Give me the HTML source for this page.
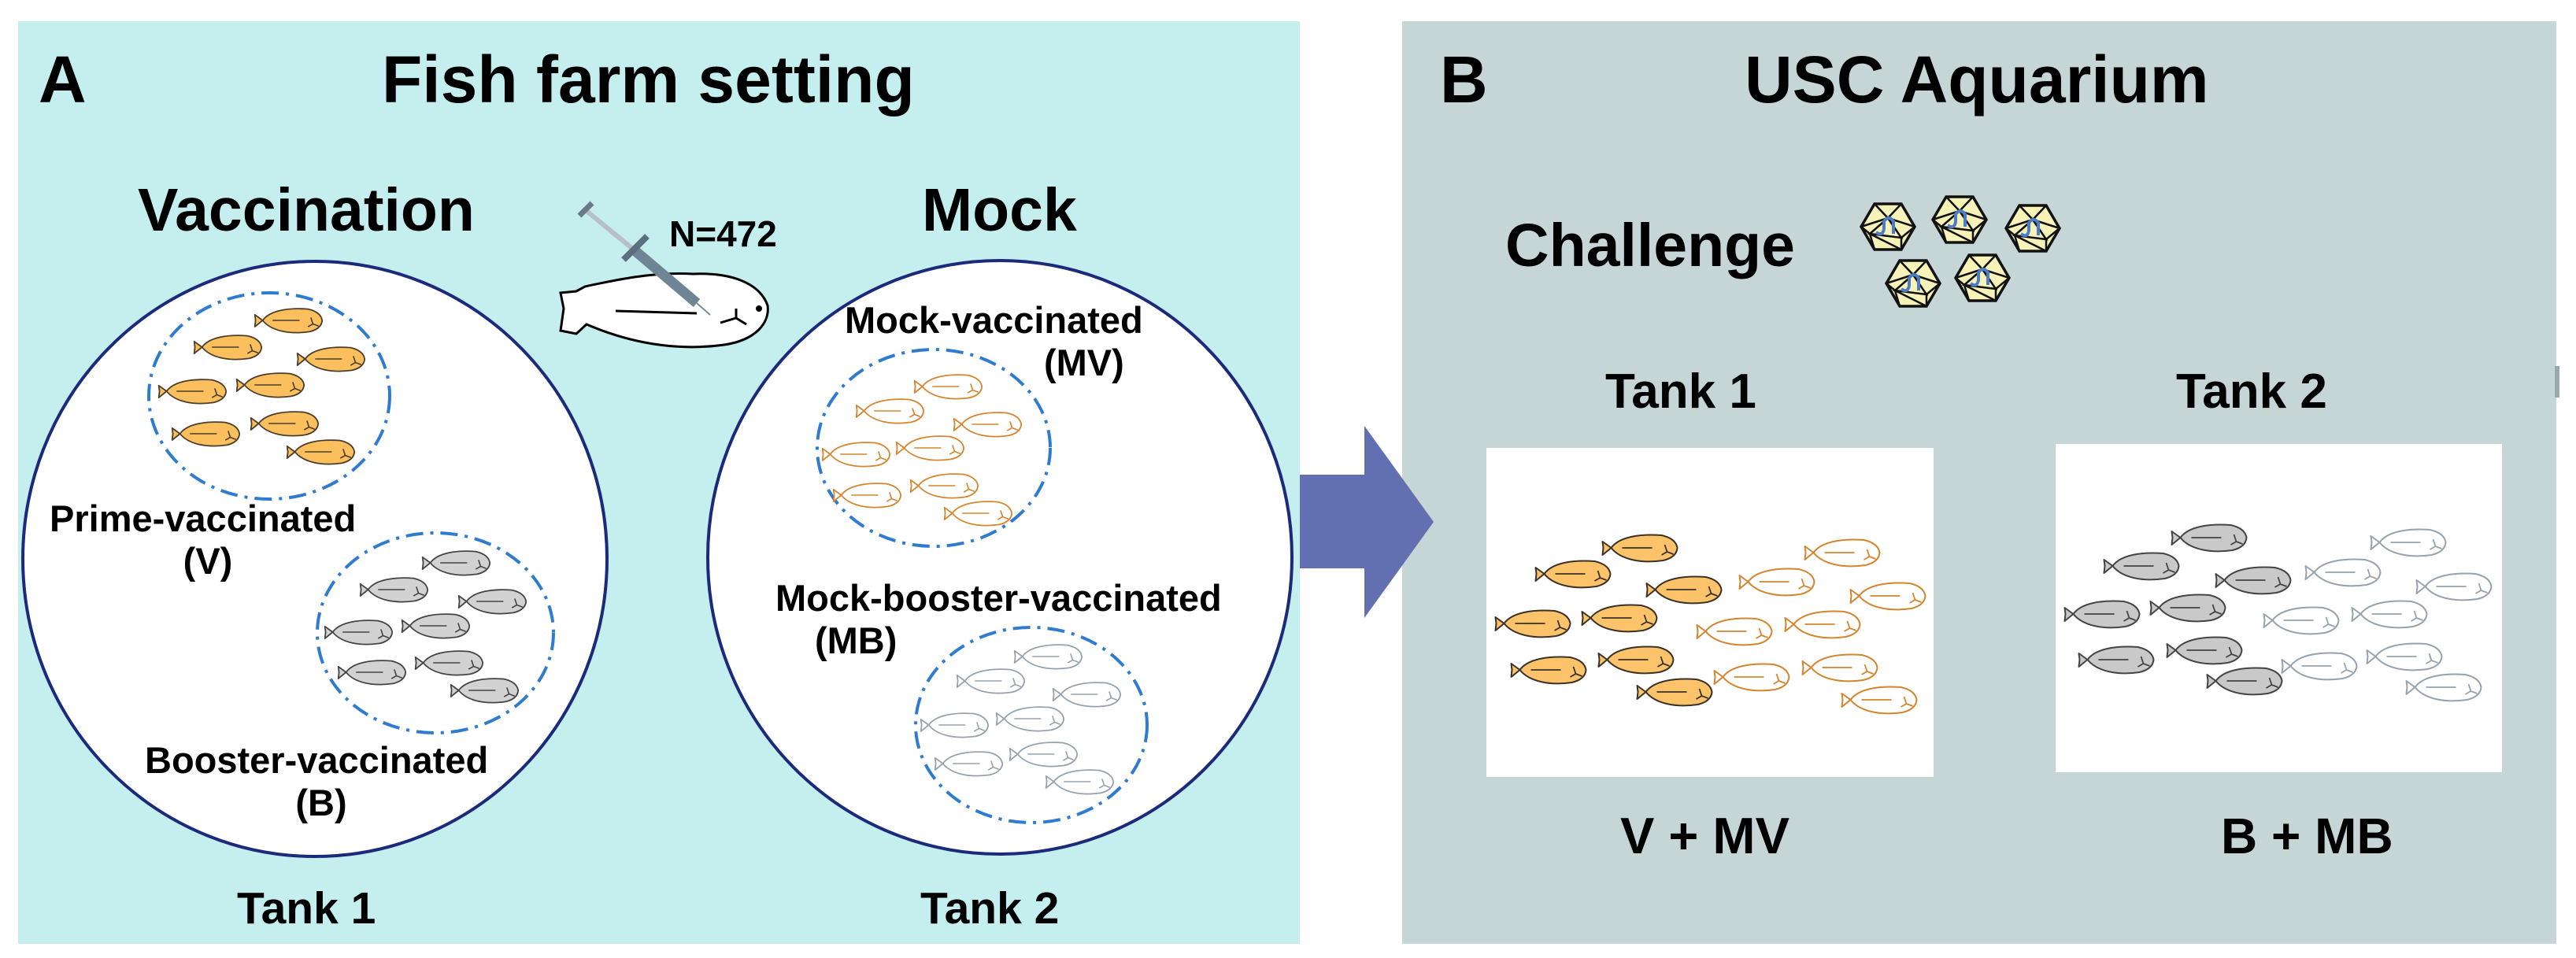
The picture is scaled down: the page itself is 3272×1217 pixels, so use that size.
<!DOCTYPE html>
<html><head><meta charset="utf-8"><style>
html,body{margin:0;padding:0;background:#fff;}
svg{display:block;}
text{font-family:"Liberation Sans",Arial,sans-serif;font-weight:bold;fill:#000;}
</style></head><body>
<svg width="3272" height="1217" viewBox="0 0 3272 1217" xmlns="http://www.w3.org/2000/svg">
<defs>
<symbol id="fish" viewBox="0 0 100 40" overflow="visible">
<path d="M14,20 C24,6 50,2 78,4 Q96,8 98,20 Q97,32 80,36 C52,40 26,35 14,20 Z M14,20 L3,12 L4,20 L3,29 Z" stroke-width="2" stroke-linejoin="round"/>
<path d="M28,20 L66,20 M82,16 L85,25 M78,29 L85,25 L93,28" fill="none" stroke-width="1.8"/>
</symbol>
<symbol id="virus" viewBox="0 0 70 62" overflow="visible">
<polygon points="18,2 52,2 69,31 52,60 18,60 1,31" fill="#f6f2b8" stroke="#111" stroke-width="3.5"/>
<path d="M18,2 L35,20 L52,2 M35,20 L12,40 L52,45 L35,20 M12,40 L1,31 M12,40 L18,60 M52,45 L69,31 M52,45 L52,60 M35,20 L1,31 M35,20 L69,31 M12,40 L52,60" fill="none" stroke="#111" stroke-width="2.5"/>
<path d="M20,38 Q28,44 30,34 L30,24 Q36,16 42,24 L42,40" fill="none" stroke="#4a7cc8" stroke-width="4"/>
</symbol>
</defs>

<rect x="23" y="27" width="1628" height="1172" fill="#c5eeee"/>
<rect x="1781" y="27" width="1466" height="1172" fill="#c6d5d5"/>
<rect x="3245" y="465" width="6" height="40" fill="#9aa"/>

<polygon points="1651,603 1733,603 1733,541 1821,663 1733,785 1733,722 1651,722" fill="#6270b2"/>

<text x="49" y="130" font-size="84">A</text>
<text x="485" y="130" font-size="84">Fish farm setting</text>
<text x="175" y="293" font-size="77">Vaccination</text>
<text x="1171" y="293" font-size="77">Mock</text>
<text x="850" y="313" font-size="46">N=472</text>

<path d="M743,364 C780,356 830,345 880,348 C930,346 965,360 975,388 C978,410 960,432 920,438 C870,445 810,440 745,412 L732,424 L712,420 L716,392 L712,372 L732,370 Z" fill="#fff" stroke="#000" stroke-width="3"/>
<path d="M782,395 L885,398 M935,392 L935,404 M915,410 L935,404 L948,412" fill="none" stroke="#000" stroke-width="3"/>
<circle cx="964" cy="392" r="4" fill="#000"/>
<line x1="745" y1="268" x2="806" y2="318" stroke="#b7c0c8" stroke-width="6"/>
<line x1="736" y1="274" x2="752" y2="258" stroke="#6b7a88" stroke-width="7"/>
<line x1="806" y1="318" x2="885" y2="385" stroke="#6d8595" stroke-width="13"/>
<line x1="885" y1="385" x2="902" y2="400" stroke="#7a8a96" stroke-width="2"/>
<line x1="792" y1="330" x2="822" y2="300" stroke="#5a6e80" stroke-width="8"/>

<ellipse cx="400" cy="710" rx="371" ry="378" fill="#fff" stroke="#1b2a7a" stroke-width="4"/>
<ellipse cx="1270" cy="708" rx="371" ry="377" fill="#fff" stroke="#1b2a7a" stroke-width="4"/>

<g fill="none" stroke="#2f7bd0" stroke-width="4" stroke-dasharray="22 9 4 9">
<ellipse cx="342" cy="503" rx="153" ry="131"/>
<ellipse cx="553" cy="804" rx="150" ry="127"/>
<ellipse cx="1186" cy="569" rx="148" ry="125"/>
<ellipse cx="1310" cy="921" rx="147" ry="124"/>
</g>

<g fill="#fbbf5e" stroke="#4a3e2a">
<use href="#fish" x="318" y="389" width="96" height="36"/>
<use href="#fish" x="241" y="423" width="96" height="36"/>
<use href="#fish" x="372" y="438" width="96" height="36"/>
<use href="#fish" x="196" y="479" width="96" height="36"/>
<use href="#fish" x="295" y="471" width="96" height="36"/>
<use href="#fish" x="213" y="533" width="96" height="36"/>
<use href="#fish" x="313" y="520" width="96" height="36"/>
<use href="#fish" x="359" y="556" width="96" height="36"/>
</g>
<g fill="#d2d2d2" stroke="#444">
<use href="#fish" x="531" y="697" width="96" height="36"/>
<use href="#fish" x="452" y="731" width="96" height="36"/>
<use href="#fish" x="577" y="746" width="96" height="36"/>
<use href="#fish" x="407" y="785" width="96" height="36"/>
<use href="#fish" x="505" y="777" width="96" height="36"/>
<use href="#fish" x="424" y="836" width="96" height="36"/>
<use href="#fish" x="522" y="824" width="96" height="36"/>
<use href="#fish" x="567" y="859" width="96" height="36"/>
</g>
<g fill="#fff" stroke="#d4852e">
<use href="#fish" x="1156" y="473" width="96" height="36"/>
<use href="#fish" x="1082" y="504" width="96" height="36"/>
<use href="#fish" x="1206" y="521" width="96" height="36"/>
<use href="#fish" x="1039" y="559" width="96" height="36"/>
<use href="#fish" x="1133" y="551" width="96" height="36"/>
<use href="#fish" x="1053" y="611" width="96" height="36"/>
<use href="#fish" x="1151" y="599" width="96" height="36"/>
<use href="#fish" x="1194" y="634" width="96" height="36"/>
</g>
<g fill="#fff" stroke="#98a2ad">
<use href="#fish" x="1283" y="816" width="96" height="36"/>
<use href="#fish" x="1210" y="847" width="96" height="36"/>
<use href="#fish" x="1332" y="864" width="96" height="36"/>
<use href="#fish" x="1164" y="903" width="96" height="36"/>
<use href="#fish" x="1260" y="895" width="96" height="36"/>
<use href="#fish" x="1182" y="952" width="96" height="36"/>
<use href="#fish" x="1277" y="940" width="96" height="36"/>
<use href="#fish" x="1323" y="975" width="96" height="36"/>
</g>

<text x="63" y="675" font-size="47">Prime-vaccinated</text>
<text x="264" y="729" font-size="47" text-anchor="middle">(V)</text>
<text x="184" y="982" font-size="47">Booster-vaccinated</text>
<text x="408" y="1036" font-size="47" text-anchor="middle">(B)</text>
<text x="1073" y="423" font-size="47">Mock-vaccinated</text>
<text x="1326" y="477" font-size="47">(MV)</text>
<text x="985" y="776" font-size="47">Mock-booster-vaccinated</text>
<text x="1035" y="830" font-size="47">(MB)</text>
<text x="301" y="1173" font-size="57">Tank 1</text>
<text x="1169" y="1173" font-size="57">Tank 2</text>

<text x="1829" y="130" font-size="84">B</text>
<text x="2216" y="130" font-size="84">USC Aquarium</text>
<text x="1912" y="338" font-size="77">Challenge</text>
<use href="#virus" x="2363" y="257" width="70" height="62"/>
<use href="#virus" x="2454" y="248" width="70" height="62"/>
<use href="#virus" x="2547" y="259" width="70" height="62"/>
<use href="#virus" x="2395" y="329" width="70" height="62"/>
<use href="#virus" x="2483" y="322" width="70" height="62"/>

<text x="2039" y="518" font-size="62">Tank 1</text>
<text x="2764" y="518" font-size="62">Tank 2</text>

<rect x="1888" y="569" width="568" height="418" fill="#fff"/>
<rect x="2611" y="564" width="567" height="417" fill="#fff"/>

<g fill="#fdc36a" stroke="#3a3226">
<use href="#fish" x="2029" y="676" width="107" height="40"/>
<use href="#fish" x="1944" y="709" width="107" height="40"/>
<use href="#fish" x="2085" y="729" width="107" height="40"/>
<use href="#fish" x="1893" y="772" width="107" height="40"/>
<use href="#fish" x="2003" y="765" width="107" height="40"/>
<use href="#fish" x="1913" y="831" width="107" height="40"/>
<use href="#fish" x="2024" y="818" width="107" height="40"/>
<use href="#fish" x="2073" y="859" width="107" height="40"/>
</g>
<g fill="#fff" stroke="#d4852e">
<use href="#fish" x="2286" y="682" width="107" height="40"/>
<use href="#fish" x="2203" y="719" width="107" height="40"/>
<use href="#fish" x="2344" y="737" width="107" height="40"/>
<use href="#fish" x="2149" y="782" width="107" height="40"/>
<use href="#fish" x="2261" y="773" width="107" height="40"/>
<use href="#fish" x="2171" y="840" width="107" height="40"/>
<use href="#fish" x="2283" y="828" width="107" height="40"/>
<use href="#fish" x="2333" y="869" width="107" height="40"/>
</g>
<g fill="#c9c9c9" stroke="#444">
<use href="#fish" x="2752" y="663" width="107" height="40"/>
<use href="#fish" x="2666" y="699" width="107" height="40"/>
<use href="#fish" x="2808" y="717" width="107" height="40"/>
<use href="#fish" x="2616" y="760" width="107" height="40"/>
<use href="#fish" x="2725" y="752" width="107" height="40"/>
<use href="#fish" x="2634" y="818" width="107" height="40"/>
<use href="#fish" x="2746" y="806" width="107" height="40"/>
<use href="#fish" x="2797" y="845" width="107" height="40"/>
</g>
<g fill="#fff" stroke="#98a2ad">
<use href="#fish" x="3005" y="669" width="107" height="40"/>
<use href="#fish" x="2922" y="707" width="107" height="40"/>
<use href="#fish" x="3063" y="725" width="107" height="40"/>
<use href="#fish" x="2869" y="768" width="107" height="40"/>
<use href="#fish" x="2981" y="760" width="107" height="40"/>
<use href="#fish" x="2892" y="826" width="107" height="40"/>
<use href="#fish" x="3000" y="814" width="107" height="40"/>
<use href="#fish" x="3050" y="853" width="107" height="40"/>
</g>

<text x="2058" y="1084" font-size="65">V + MV</text>
<text x="2821" y="1084" font-size="64">B + MB</text>
</svg>
</body></html>
